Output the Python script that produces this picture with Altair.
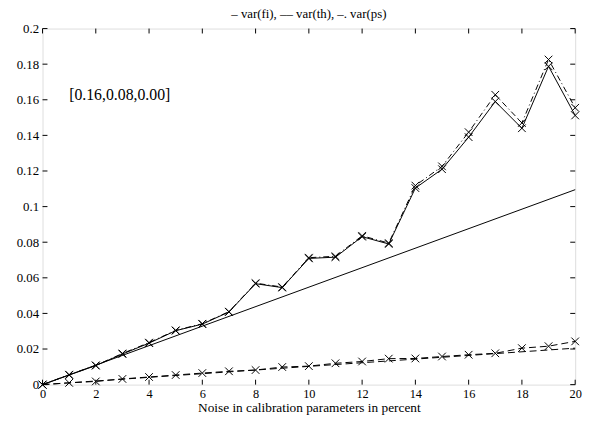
import altair as alt
import pandas as pd

# ---- data ----
noise = list(range(21))
var_fi = [0.0, 0.0054, 0.0107, 0.0172, 0.0233, 0.0303, 0.0340, 0.0408, 0.0567, 0.0545,
          0.0709, 0.0716, 0.0831, 0.0790, 0.1104, 0.1210, 0.1390, 0.1590, 0.1440, 0.1788, 0.1512]
var_ps = [0.0, 0.0056, 0.0108, 0.0175, 0.0236, 0.0305, 0.0342, 0.0410, 0.0570, 0.0548,
          0.0713, 0.0721, 0.0836, 0.0795, 0.1118, 0.1226, 0.1418, 0.1628, 0.1470, 0.1826, 0.1555]
var_th = [0.0, 0.0010, 0.0018, 0.0032, 0.0043, 0.0054, 0.0065, 0.0075, 0.0082, 0.0099,
          0.0104, 0.0120, 0.0130, 0.0146, 0.0147, 0.0158, 0.0168, 0.0176, 0.0205, 0.0216, 0.0243]
theory_x = [0, 20]
theory_fi = [0.0, 0.1095]
theory_th = [0.0, 0.0205]

x_ticks = [0, 2, 4, 6, 8, 10, 12, 14, 16, 18, 20]
y_ticks = [0, 0.02, 0.04, 0.06, 0.08, 0.1, 0.12, 0.14, 0.16, 0.18, 0.2]

title_text = "– var(fi), –– var(th), –. var(ps)"
x_title = "Noise in calibration parameters in percent"
note_text = "[0.16,0.08,0.00]"
note_x = [1.0]
note_y = [0.1625]

FONT = "Liberation Serif, Times New Roman, serif"
W, H = 540, 361

df = pd.DataFrame({"x": noise, "fi": var_fi, "ps": var_ps, "th": var_th})
dft = pd.DataFrame({"x": theory_x, "tfi": theory_fi, "tth": theory_th})
dxt = pd.DataFrame({"x": x_ticks})
dyt = pd.DataFrame({"v": y_ticks})
dnote = pd.DataFrame({"x": note_x, "y": note_y, "t": [note_text]})

xscale = alt.Scale(domain=[0, 20], nice=False, zero=False)
yscale = alt.Scale(domain=[0, 0.2], nice=False, zero=False)

xaxis = alt.Axis(values=x_ticks, title=x_title, ticks=False, domain=False, grid=False,
                 labelFont=FONT, labelFontSize=12.5, labelColor="black", labelPadding=3,
                 labelOverlap=False, labelFlush=False,
                 titleFont=FONT, titleFontSize=13.5, titleFontWeight="normal",
                 titleColor="black", titlePadding=1)
yaxis = alt.Axis(values=y_ticks, format="~g", title=None, ticks=False,
                 domain=False, grid=False, labelFont=FONT, labelFontSize=13,
                 labelColor="black", labelPadding=4, labelOverlap=False,
                 labelFlush=False)

X = alt.X("x:Q", scale=xscale, axis=xaxis, title=x_title)


def Y(field):
    return alt.Y(f"{field}:Q", scale=yscale, axis=yaxis, title=None)


XSHAPE = "M-1,-1L1,1M-1,1L1,-1"

base = alt.Chart(df)
line_fi = base.mark_line(color="black", strokeWidth=1).encode(x=X, y=Y("fi"))
pt_fi = base.mark_point(shape=XSHAPE, size=60, color="black", strokeWidth=1, filled=False, opacity=1).encode(x=X, y=Y("fi"))
line_ps = base.mark_line(color="black", strokeWidth=1, strokeDash=[6, 3, 1, 3]).encode(x=X, y=Y("ps"))
pt_ps = base.mark_point(shape=XSHAPE, size=60, color="black", strokeWidth=1, filled=False, opacity=1).encode(x=X, y=Y("ps"))
line_th = base.mark_line(color="black", strokeWidth=1, strokeDash=[7, 4]).encode(x=X, y=Y("th"))
pt_th = base.mark_point(shape=XSHAPE, size=60, color="black", strokeWidth=1, filled=False, opacity=1).encode(x=X, y=Y("th"))

tb = alt.Chart(dft)
t_fi = tb.mark_line(color="black", strokeWidth=1).encode(x=X, y=Y("tfi"))
t_th = tb.mark_line(color="black", strokeWidth=1, strokeDash=[7, 4]).encode(x=X, y=Y("tth"))

note = alt.Chart(dnote).mark_text(align="left", baseline="middle", font=FONT, fontSize=16,
                                  color="black").encode(x=X, y=Y("y"), text="t:N")

# inward ticks (MATLAB style box)
tx = alt.Chart(dxt)
ty = alt.Chart(dyt)
tick_bottom = tx.mark_rule(color="black", strokeWidth=1).encode(
    x=X, y=alt.value(H), y2=alt.value(H - 5))
tick_top = tx.mark_rule(color="black", strokeWidth=1).encode(
    x=X, y=alt.value(0), y2=alt.value(5))
tick_left = ty.mark_rule(color="black", strokeWidth=1).encode(
    y=Y("v"), x=alt.value(0), x2=alt.value(5))
tick_right = ty.mark_rule(color="black", strokeWidth=1).encode(
    y=Y("v"), x=alt.value(W), x2=alt.value(W - 5))

chart = alt.layer(
    t_fi, t_th, line_th, pt_th, line_ps, pt_ps, line_fi, pt_fi, note,
    tick_bottom, tick_top, tick_left, tick_right,
).properties(
    width=W, height=H,
    title=alt.TitleParams(title_text, font=FONT, fontSize=13, fontWeight="normal",
                          color="black", offset=2, anchor="middle"),
    autosize=alt.AutoSizeParams(type="none"),
    padding={"left": 35, "top": 18, "right": 13, "bottom": 32},
).configure_view(stroke="black", strokeWidth=1.3).configure(background="white")

chart.save("out.html", embed_options={"renderer": "svg", "actions": False})
